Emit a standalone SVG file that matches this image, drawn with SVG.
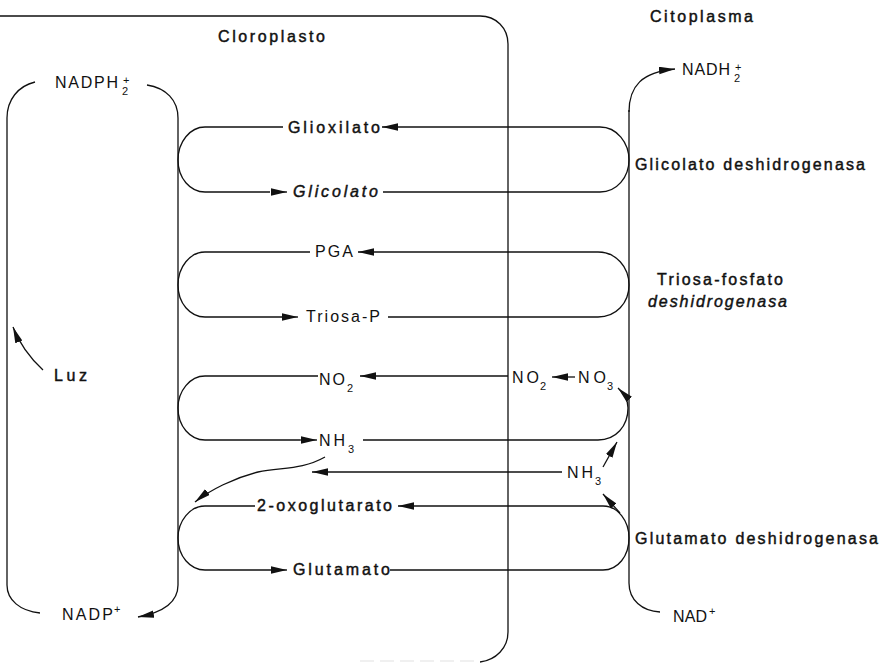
<svg xmlns="http://www.w3.org/2000/svg" width="882" height="663" viewBox="0 0 882 663">
  <style>
    .ln { fill: none; stroke: #111; stroke-width: 1.3; }
    .ar { fill: none; stroke: #111; stroke-width: 1.3; marker-end: url(#head); }
    text { font-family: "Liberation Sans", Arial, sans-serif; fill: #111; font-size: 16px; }
    .med { stroke: #111; stroke-width: 0.45; }
    .it { font-style: italic; }
    .sm { font-size: 11px; }
  </style>
  <defs>
    <marker id="head" markerUnits="userSpaceOnUse" markerWidth="18" markerHeight="10" refX="16" refY="3.75" orient="auto">
      <path d="M0,0 L16,3.75 L0,7.5 Z" fill="#111"/>
    </marker>
  </defs>

  <!-- chloroplast envelope -->
  <g id="envelope">
    <path class="ln" d="M0,16 L480,16 C496,16 508,28 508,44 L508,632 C508,648 496,660 480,662"/>
    <path d="M360,661 L480,661" fill="none" stroke="#e2e2e2" stroke-width="1.2" stroke-dasharray="14 6"/>
    <text id="lbl-cloroplasto" class="med" x="218" y="42" textLength="107" lengthAdjust="spacing">Cloroplasto</text>
    <text id="lbl-citoplasma" class="med" x="650" y="22" textLength="103" lengthAdjust="spacing">Citoplasma</text>
  </g>

  <g id="connectors">
    <!-- NADP+ / NADPH2+ cycle -->
    <path class="ln" d="M35,82 C18,86 7,100 7,118 L7,585 C7,600 20,611 40,613"/>
    <path class="ar" d="M147,85 C166,88 178,100 178,118 L178,585 C178,601 165,612 138,617"/>
    <path class="ar" d="M43,370 C30,358 20,345 13,327"/>

    <!-- NAD+ / NADH2+ cycle -->
    <path class="ln" d="M660,612 C642,611 629,600 629,583 L629,110"/>
    <path class="ar" d="M629,112 C629,86 642,72 675,69"/>

    <!-- glioxilato / glicolato shuttle -->
    <path class="ln" d="M283,127 L205,127 C190,127 178,142 178,160 C178,178 190,192 205,192 L270,192"/>
    <path class="ar" d="M272,192 L287,192"/>
    <path class="ar" d="M600,127 L382,127"/>
    <path class="ln" d="M600,127 C617,127 629,143 629,160 C629,177 617,192 600,192 L383,192"/>

    <!-- PGA / triosa-P shuttle -->
    <path class="ln" d="M310,252 L205,252 C190,252 178,267 178,285 C178,303 190,317 205,317 L285,317"/>
    <path class="ar" d="M285,317 L298,317"/>
    <path class="ar" d="M598,252 L358,252"/>
    <path class="ln" d="M598,252 C616,252 629,267 629,285 C629,303 616,317 598,317 L388,317"/>

    <!-- nitrite / ammonia -->
    <path class="ln" d="M318,376 L205,376 C190,376 178,391 178,408 C178,426 190,440 205,440 L300,440"/>
    <path class="ar" d="M300,440 L317,440"/>
    <path class="ar" d="M508,376 L360,376"/>
    <path class="ar" d="M575,377 L552,377"/>
    <path class="ar" d="M363,440 L598,440 C616,440 628,426 628,408 C628,399 624,394 618,388"/>
    <path class="ar" d="M562,472 L312,472"/>
    <path class="ar" d="M325,457 C302,470 282,467 258,472 C234,478 210,490 195,502"/>
    <path class="ar" d="M620,513 L603,494"/>
    <path class="ar" d="M603,467 L617,442"/>

    <!-- 2-oxoglutarato / glutamato shuttle -->
    <path class="ln" d="M255,506 L205,506 C190,506 178,521 178,538 C178,556 190,570 205,570 L272,570"/>
    <path class="ar" d="M272,570 L287,570"/>
    <path class="ar" d="M603,506 L398,506"/>
    <path class="ln" d="M603,506 C618,506 629,521 629,538 C629,556 618,570 603,570 L390,570"/>
  </g>

  <g id="n-nadph">
    <text x="55" y="88" textLength="63" lengthAdjust="spacing">NADPH</text>
    <text class="sm" x="122" y="95">2</text>
    <text class="sm" x="123" y="84">+</text>
  </g>
  <g id="n-nadp">
    <text x="62" y="620" textLength="51" lengthAdjust="spacing">NADP</text>
    <text class="sm" x="114" y="613">+</text>
  </g>
  <g id="n-luz"><text class="med" x="54" y="381" textLength="33" lengthAdjust="spacing">Luz</text></g>
  <g id="n-nadh">
    <text x="682" y="75" textLength="48" lengthAdjust="spacing">NADH</text>
    <text class="sm" x="734" y="82">2</text>
    <text class="sm" x="735" y="71">+</text>
  </g>
  <g id="n-nad">
    <text x="673" y="622" textLength="34" lengthAdjust="spacing">NAD</text>
    <text class="sm" x="709" y="615">+</text>
  </g>

  <g id="n-glioxilato"><text class="med" x="288" y="133" textLength="92" lengthAdjust="spacing">Glioxilato</text></g>
  <g id="n-glicolato"><text class="med it" x="293" y="197" textLength="85" lengthAdjust="spacing">Glicolato</text></g>
  <g id="n-pga"><text x="315" y="257" textLength="38" lengthAdjust="spacing">PGA</text></g>
  <g id="n-triosa-p"><text x="306" y="322" textLength="74" lengthAdjust="spacing">Triosa-P</text></g>
  <g id="n-no2-chl">
    <text x="319" y="385" textLength="26" lengthAdjust="spacing">NO</text>
    <text class="sm" x="347" y="392">2</text>
  </g>
  <g id="n-nh3-chl">
    <text x="319" y="446" textLength="26" lengthAdjust="spacing">NH</text>
    <text class="sm" x="348" y="453">3</text>
  </g>
  <g id="n-no2-cyt">
    <text x="512" y="383" textLength="27" lengthAdjust="spacing">NO</text>
    <text class="sm" x="540" y="390">2</text>
  </g>
  <g id="n-no3">
    <text x="578" y="383" textLength="28" lengthAdjust="spacing">NO</text>
    <text class="sm" x="607" y="390">3</text>
  </g>
  <g id="n-nh3-cyt">
    <text x="567" y="478" textLength="26" lengthAdjust="spacing">NH</text>
    <text class="sm" x="595" y="485">3</text>
  </g>
  <g id="n-oxoglutarato"><text class="med" x="257" y="511" textLength="135" lengthAdjust="spacing">2-oxoglutarato</text></g>
  <g id="n-glutamato"><text class="med" x="293" y="575" textLength="97" lengthAdjust="spacing">Glutamato</text></g>

  <g id="e-glicolato-dh"><text class="med" x="635" y="170" textLength="230" lengthAdjust="spacing">Glicolato deshidrogenasa</text></g>
  <g id="e-triosa-dh">
    <text class="med" x="657" y="285" textLength="126" lengthAdjust="spacing">Triosa-fosfato</text>
    <text class="med it" x="648" y="307" textLength="139" lengthAdjust="spacing">deshidrogenasa</text>
  </g>
  <g id="e-glutamato-dh"><text class="med" x="635" y="544" textLength="243" lengthAdjust="spacing">Glutamato deshidrogenasa</text></g>
</svg>
